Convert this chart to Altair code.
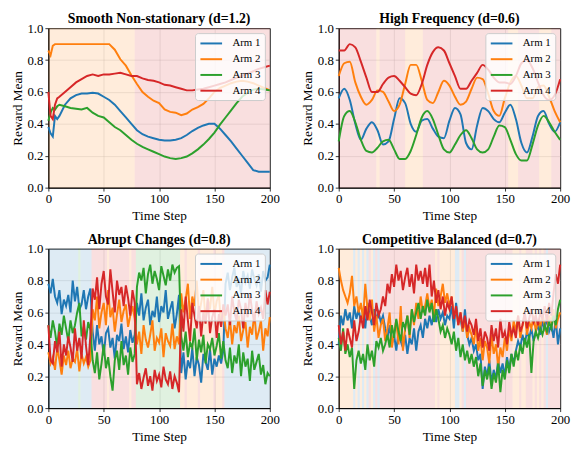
import altair as alt
import numpy as np
import pandas as pd

ARMS = ["Arm 1", "Arm 2", "Arm 3", "Arm 4"]
COLORS = ["#1f77b4", "#ff7f0e", "#2ca02c", "#d62728"]
FONT = "Liberation Serif"

# ---------------- Panel 1: Smooth Non-stationary ----------------
p1_t = [0, 2, 4, 6, 8] + list(range(10, 201, 5))
p1_arm1 = [0.38, 0.34, 0.32, 0.45, 0.43,
           0.45, 0.52, 0.56, 0.58, 0.59, 0.59, 0.595, 0.59, 0.57, 0.55,
           0.52, 0.48, 0.44, 0.40, 0.36, 0.335, 0.32, 0.31, 0.30, 0.295,
           0.295, 0.30, 0.31, 0.33, 0.355, 0.375, 0.39, 0.40, 0.40, 0.37,
           0.33, 0.29, 0.245, 0.20, 0.155, 0.11, 0.10, 0.10, 0.10]
p1_arm2 = [0.86, 0.83, 0.89, 0.90, 0.90,
           0.90, 0.90, 0.90, 0.90, 0.90, 0.90, 0.90, 0.90, 0.90, 0.90,
           0.865, 0.805, 0.765, 0.705, 0.65, 0.60, 0.57, 0.545, 0.53, 0.49,
           0.475, 0.47, 0.455, 0.465, 0.49, 0.505, 0.525, 0.56, 0.60, 0.625,
           0.64, 0.655, 0.665, 0.67, 0.665, 0.655, 0.64, 0.625, 0.61]
p1_arm3 = [0.42, 0.47, 0.50, 0.49, 0.51,
           0.52, 0.51, 0.50, 0.495, 0.49, 0.50, 0.47, 0.45, 0.44, 0.41,
           0.38, 0.36, 0.33, 0.30, 0.275, 0.255, 0.24, 0.225, 0.21, 0.195,
           0.185, 0.18, 0.185, 0.195, 0.215, 0.24, 0.27, 0.305, 0.345, 0.395,
           0.44, 0.485, 0.53, 0.57, 0.595, 0.615, 0.62, 0.615, 0.61]
p1_arm4 = [0.60, 0.45, 0.43, 0.52, 0.56,
           0.57, 0.60, 0.63, 0.66, 0.68, 0.70, 0.71, 0.70, 0.71, 0.71,
           0.715, 0.72, 0.71, 0.70, 0.70, 0.685, 0.675, 0.67, 0.66, 0.645,
           0.64, 0.63, 0.62, 0.61, 0.61, 0.615, 0.62, 0.63, 0.64, 0.65,
           0.66, 0.675, 0.69, 0.70, 0.715, 0.73, 0.745, 0.755, 0.765]
p1_band_start = [0, 78]
p1_band_end = [78, 200]
p1_band_arm = [2, 4]

# ---------------- Panel 2: High Frequency ----------------
p2_t = list(range(0, 201, 5))
p2_arm1 = [0.56, 0.62, 0.55, 0.40, 0.30, 0.37, 0.41, 0.36, 0.27, 0.29,
           0.43, 0.56, 0.53, 0.40, 0.35, 0.42, 0.43, 0.37, 0.32, 0.31,
           0.42, 0.50, 0.46, 0.28, 0.24, 0.39, 0.50, 0.48, 0.43, 0.41,
           0.47, 0.52, 0.43, 0.28, 0.22, 0.32, 0.45, 0.48, 0.40, 0.35,
           0.41]
p2_arm2 = [0.70, 0.78, 0.79, 0.66, 0.57, 0.52, 0.55, 0.61, 0.60, 0.54,
           0.48, 0.52, 0.65, 0.77, 0.77, 0.67, 0.55, 0.53, 0.60, 0.67,
           0.64, 0.57, 0.52, 0.54, 0.62, 0.69, 0.68, 0.59, 0.48, 0.45,
           0.56, 0.66, 0.70, 0.64, 0.56, 0.56, 0.63, 0.64, 0.57, 0.48,
           0.41]
p2_arm3 = [0.29, 0.45, 0.48, 0.41, 0.30, 0.23, 0.22, 0.25, 0.29, 0.30,
           0.24, 0.18, 0.18, 0.23, 0.33, 0.44, 0.48, 0.43, 0.33, 0.24,
           0.22, 0.27, 0.33, 0.36, 0.31, 0.24, 0.22, 0.24, 0.32, 0.39,
           0.38, 0.30, 0.21, 0.17, 0.17, 0.27, 0.39, 0.45, 0.41, 0.35,
           0.30]
p2_arm4 = [0.86, 0.86, 0.90, 0.88, 0.79, 0.69, 0.60, 0.60, 0.65, 0.69,
           0.70, 0.67, 0.63, 0.59, 0.58, 0.65, 0.77, 0.85, 0.88, 0.86,
           0.78, 0.70, 0.62, 0.62, 0.67, 0.72, 0.77, 0.74, 0.69, 0.66,
           0.66, 0.65, 0.70, 0.78, 0.80, 0.75, 0.66, 0.58, 0.55, 0.58,
           0.68]
p2_band_start = [0, 34, 37, 60, 76, 153, 162, 181, 192]
p2_band_end = [34, 37, 60, 76, 153, 162, 181, 192, 200]
p2_band_arm = [4, 2, 4, 2, 4, 2, 4, 2, 4]

# ---------------- Panel 3: Abrupt Changes ----------------
p3_t = list(range(0, 201, 2))
p3_arm1 = [0.78, 0.72, 0.81, 0.70, 0.66, 0.74, 0.59, 0.68, 0.64, 0.71, 0.60, 0.80, 0.67, 0.76, 0.62, 0.65, 0.74, 0.62, 0.70, 0.75,
           0.48, 0.36, 0.52, 0.40, 0.45, 0.33, 0.47, 0.50, 0.38, 0.44, 0.31, 0.46, 0.42, 0.53, 0.37, 0.45, 0.35, 0.49, 0.41, 0.46,
           0.66, 0.58, 0.72, 0.55, 0.63, 0.68, 0.52, 0.61, 0.57, 0.70, 0.54, 0.64, 0.60, 0.74, 0.56, 0.62, 0.67, 0.50, 0.59, 0.71,
           0.22, 0.35, 0.18, 0.30, 0.25, 0.38, 0.20, 0.32, 0.27, 0.16, 0.34, 0.29, 0.24, 0.37, 0.21, 0.31, 0.26, 0.33, 0.28, 0.36,
           0.78, 0.85, 0.74, 0.82, 0.88, 0.76, 0.80, 0.72, 0.86, 0.79, 0.83, 0.75, 0.87, 0.81, 0.77, 0.84, 0.73, 0.86, 0.80, 0.82, 0.90]
p3_arm2 = [0.35, 0.28, 0.32, 0.24, 0.38, 0.30, 0.21, 0.33, 0.27, 0.36, 0.25, 0.31, 0.29, 0.37, 0.23, 0.34, 0.28, 0.32, 0.26, 0.30,
           0.62, 0.55, 0.70, 0.50, 0.60, 0.66, 0.52, 0.74, 0.57, 0.63, 0.48, 0.59, 0.68, 0.54, 0.61, 0.65, 0.51, 0.58, 0.64, 0.56,
           0.40, 0.48, 0.34, 0.52, 0.43, 0.38, 0.46, 0.55, 0.36, 0.44, 0.41, 0.50, 0.32, 0.47, 0.42, 0.39, 0.53, 0.37, 0.45, 0.40,
           0.72, 0.60, 0.68, 0.78, 0.56, 0.70, 0.64, 0.80, 0.58, 0.66, 0.74, 0.55, 0.69, 0.62, 0.76, 0.59, 0.67, 0.71, 0.52, 0.63,
           0.50, 0.44, 0.56, 0.40, 0.52, 0.47, 0.58, 0.42, 0.49, 0.54, 0.38, 0.51, 0.46, 0.60, 0.43, 0.48, 0.55, 0.36, 0.50, 0.45, 0.57]
p3_arm3 = [0.52, 0.44, 0.55, 0.48, 0.38, 0.53, 0.46, 0.58, 0.50, 0.42, 0.55, 0.47, 0.52, 0.60, 0.66, 0.45, 0.51, 0.43, 0.54, 0.49,
           0.30, 0.22, 0.35, 0.18, 0.28, 0.40, 0.25, 0.32, 0.20, 0.11, 0.30, 0.36, 0.24, 0.42, 0.27, 0.33, 0.21, 0.38, 0.29, 0.34,
           0.76, 0.85, 0.80, 0.88, 0.72, 0.84, 0.90, 0.78, 0.86, 0.81, 0.74, 0.89, 0.83, 0.77, 0.87, 0.80, 0.90, 0.85, 0.88, 0.89,
           0.45, 0.36, 0.48, 0.32, 0.41, 0.38, 0.50, 0.30, 0.43, 0.35, 0.46, 0.28, 0.40, 0.37, 0.44, 0.33, 0.39, 0.47, 0.31, 0.42,
           0.30, 0.25, 0.38, 0.22, 0.33, 0.28, 0.40, 0.20, 0.35, 0.26, 0.31, 0.17, 0.36, 0.24, 0.29, 0.34, 0.21, 0.27, 0.15, 0.22, 0.20]
p3_arm4 = [0.52, 0.30, 0.28, 0.42, 0.35, 0.48, 0.26, 0.40, 0.33, 0.45, 0.38, 0.29, 0.50, 0.36, 0.44, 0.31, 0.55, 0.39, 0.27, 0.46,
           0.75, 0.68, 0.82, 0.62, 0.78, 0.86, 0.70, 0.65, 0.87, 0.73, 0.60, 0.80, 0.71, 0.76, 0.64, 0.77, 0.69, 0.58, 0.74, 0.66,
           0.15, 0.22, 0.12, 0.19, 0.25, 0.14, 0.20, 0.11, 0.24, 0.17, 0.21, 0.13, 0.26, 0.18, 0.15, 0.23, 0.12, 0.20, 0.16, 0.10,
           0.62, 0.48, 0.70, 0.55, 0.42, 0.66, 0.58, 0.50, 0.64, 0.45, 0.60, 0.53, 0.68, 0.47, 0.57, 0.62, 0.44, 0.59, 0.51, 0.65,
           0.58, 0.65, 0.52, 0.70, 0.60, 0.55, 0.68, 0.62, 0.50, 0.66, 0.57, 0.72, 0.61, 0.54, 0.67, 0.59, 0.63, 0.56, 0.74, 0.65, 0.73]

# ---------------- Panel 4: Competitive Balanced ----------------
p4_t = list(range(0, 201, 2))
p4_arm1 = [0.40, 0.58, 0.52, 0.62, 0.55, 0.60, 0.50, 0.64, 0.56, 0.62,
           0.54, 0.60, 0.50, 0.66, 0.58, 0.52, 0.62, 0.56, 0.60, 0.54,
           0.58, 0.50, 0.44, 0.52, 0.40, 0.46, 0.36, 0.48, 0.42, 0.38,
           0.46, 0.34, 0.44, 0.40, 0.50, 0.36, 0.48, 0.52, 0.44, 0.56,
           0.50, 0.58, 0.52, 0.60, 0.54, 0.62, 0.56, 0.60, 0.52, 0.58,
           0.56, 0.64, 0.50, 0.66, 0.54, 0.56, 0.48, 0.62, 0.46, 0.40,
           0.44, 0.36, 0.40, 0.30, 0.34, 0.12, 0.26, 0.20, 0.30, 0.16,
           0.24, 0.18, 0.30, 0.22, 0.28, 0.20, 0.32, 0.24, 0.34, 0.28,
           0.36, 0.42, 0.38, 0.46, 0.40, 0.48, 0.44, 0.50, 0.42, 0.48,
           0.52, 0.46, 0.54, 0.50, 0.56, 0.48, 0.52, 0.44, 0.56, 0.40,
           0.50]
p4_arm2 = [0.88, 0.80, 0.74, 0.70, 0.66, 0.72, 0.83, 0.64, 0.70, 0.60,
           0.66, 0.56, 0.78, 0.62, 0.55, 0.68, 0.48, 0.58, 0.44, 0.52,
           0.56, 0.42, 0.50, 0.60, 0.38, 0.48, 0.55, 0.40, 0.64, 0.36,
           0.50, 0.58, 0.44, 0.62, 0.52, 0.66, 0.56, 0.70, 0.60, 0.64,
           0.72, 0.62, 0.68, 0.58, 0.75, 0.64, 0.70, 0.78, 0.66, 0.72,
           0.64, 0.70, 0.58, 0.62, 0.52, 0.60, 0.48, 0.55, 0.44, 0.50,
           0.46, 0.40, 0.52, 0.36, 0.44, 0.30, 0.42, 0.38, 0.28, 0.46,
           0.34, 0.40, 0.26, 0.38, 0.32, 0.44, 0.36, 0.50, 0.42, 0.55,
           0.48, 0.58, 0.44, 0.52, 0.60, 0.46, 0.54, 0.50, 0.58, 0.48,
           0.55, 0.50, 0.60, 0.52, 0.46, 0.58, 0.54, 0.62, 0.50, 0.56,
           0.60]
p4_arm3 = [0.44, 0.36, 0.50, 0.34, 0.40, 0.32, 0.38, 0.12, 0.30, 0.36,
           0.28, 0.34, 0.24, 0.40, 0.30, 0.36, 0.26, 0.42, 0.38, 0.44,
           0.36, 0.40, 0.46, 0.38, 0.52, 0.44, 0.56, 0.48, 0.42, 0.54,
           0.50, 0.58, 0.46, 0.62, 0.54, 0.60, 0.66, 0.56, 0.64, 0.58,
           0.68, 0.60, 0.66, 0.54, 0.62, 0.56, 0.48, 0.52, 0.44, 0.50,
           0.46, 0.40, 0.48, 0.36, 0.44, 0.32, 0.40, 0.30, 0.36, 0.28,
           0.34, 0.26, 0.32, 0.20, 0.28, 0.14, 0.24, 0.18, 0.26, 0.12,
           0.22, 0.16, 0.28, 0.10, 0.24, 0.18, 0.30, 0.22, 0.34, 0.26,
           0.36, 0.30, 0.40, 0.34, 0.44, 0.38, 0.46, 0.22, 0.42, 0.48,
           0.44, 0.50, 0.46, 0.52, 0.48, 0.54, 0.50, 0.58, 0.52, 0.62,
           0.68]
p4_arm4 = [0.52, 0.40, 0.48, 0.36, 0.50, 0.44, 0.38, 0.55, 0.42, 0.48,
           0.58, 0.50, 0.64, 0.55, 0.68, 0.60, 0.52, 0.66, 0.58, 0.62,
           0.70, 0.64, 0.78, 0.72, 0.84, 0.76, 0.90, 0.80, 0.86, 0.74,
           0.82, 0.88, 0.76, 0.84, 0.72, 0.90, 0.80, 0.86, 0.78, 0.88,
           0.76, 0.90, 0.70, 0.80, 0.66, 0.74, 0.62, 0.70, 0.58, 0.66,
           0.62, 0.70, 0.56, 0.64, 0.52, 0.60, 0.50, 0.58, 0.48, 0.55,
           0.52, 0.46, 0.56, 0.42, 0.50, 0.38, 0.48, 0.44, 0.36, 0.52,
           0.42, 0.50, 0.38, 0.56, 0.44, 0.48, 0.40, 0.54, 0.46, 0.50,
           0.44, 0.58, 0.48, 0.52, 0.60, 0.50, 0.56, 0.62, 0.54, 0.58,
           0.52, 0.60, 0.56, 0.64, 0.54, 0.66, 0.58, 0.72, 0.84, 0.78,
           0.90]

TITLES = ["Smooth Non-stationary (d=1.2)", "High Frequency (d=0.6)",
          "Abrupt Changes (d=0.8)", "Competitive Balanced (d=0.7)"]


def long_df(t, series):
    rows = []
    for arm, vals in zip(ARMS, series):
        assert len(vals) == len(t), (arm, len(vals), len(t))
        for ti, v in zip(t, vals):
            rows.append({"t": ti, "value": v, "arm": arm})
    return pd.DataFrame(rows)


def bands_explicit(starts, ends, arms):
    return pd.DataFrame({"start": starts, "end": ends,
                         "color": [COLORS[a - 1] for a in arms]})


def bands_argmax(t, series):
    arr = np.array(series)
    best = arr.argmax(axis=0)
    n = len(t)
    rows = []
    s = 0
    for i in range(1, n + 1):
        if i == n or best[i] != best[s]:
            x0 = t[0] if s == 0 else (t[s - 1] + t[s]) / 2
            x1 = t[-1] if i == n else (t[i - 1] + t[i]) / 2
            rows.append({"start": x0, "end": x1, "color": COLORS[best[s]]})
            s = i
    return pd.DataFrame(rows)


xscale = alt.Scale(domain=[0, 200], nice=False, zero=False)
yscale = alt.Scale(domain=[0, 1], nice=False)
xaxis = alt.Axis(values=[0, 50, 100, 150, 200], title="Time Step", labelFlush=False)
yaxis = alt.Axis(values=[0, 0.2, 0.4, 0.6, 0.8, 1.0], format=".1f", title="Reward Mean", labelFlush=False)


def panel(title, lines_df, bands_df, interp):
    bands = alt.Chart(bands_df).mark_rect(opacity=0.15, strokeWidth=0).encode(
        x=alt.X("start:Q", scale=xscale, axis=xaxis),
        x2="end:Q",
        fill=alt.Fill("color:N", scale=None),
    )
    lines = alt.Chart(lines_df).mark_line(strokeWidth=2, interpolate=interp).encode(
        x=alt.X("t:Q", scale=xscale, axis=xaxis),
        y=alt.Y("value:Q", scale=yscale, axis=yaxis),
        color=alt.Color("arm:N", scale=alt.Scale(domain=ARMS, range=COLORS),
                        legend=alt.Legend(title=None)),
    )
    return alt.layer(bands, lines).properties(
        width=225, height=162,
        title=alt.TitleParams(text=title, frame="group", offset=-4),
    )


s1 = [p1_arm1, p1_arm2, p1_arm3, p1_arm4]
s2 = [p2_arm1, p2_arm2, p2_arm3, p2_arm4]
s3 = [p3_arm1, p3_arm2, p3_arm3, p3_arm4]
s4 = [p4_arm1, p4_arm2, p4_arm3, p4_arm4]

c1 = panel(TITLES[0], long_df(p1_t, s1), bands_explicit(p1_band_start, p1_band_end, p1_band_arm), "linear")
c2 = panel(TITLES[1], long_df(p2_t, s2), bands_explicit(p2_band_start, p2_band_end, p2_band_arm), "monotone")
c3 = panel(TITLES[2], long_df(p3_t, s3), bands_argmax(p3_t, s3), "linear")
c4 = panel(TITLES[3], long_df(p4_t, s4), bands_argmax(p4_t, s4), "linear")

chart = alt.concat(
    c1, c2, c3, c4, columns=2, spacing={"row": 62, "column": 70}, bounds="flush"
).resolve_scale(
    color="independent"
).properties(
    padding={"left": 1, "top": 0, "right": 0, "bottom": 0}
).configure(
    font=FONT
).configure_view(
    stroke="black", strokeWidth=1
).configure_axis(
    labelFont=FONT, titleFont=FONT, labelFontSize=13, titleFontSize=13.5,
    titleFontWeight="normal", labelColor="black", titleColor="black",
    domainColor="black", domainWidth=1, tickColor="black", tickSize=3.5,
    tickWidth=0.8, gridColor="#b0b0b0", gridOpacity=0.35, gridWidth=0.8,
    labelPadding=2, titlePadding=3
).configure_title(
    font=FONT, fontSize=14, fontWeight="bold", anchor="middle", color="black"
).configure_legend(
    orient="top-right", offset=5, fillColor="rgba(255,255,255,0.8)",
    strokeColor="#cccccc", cornerRadius=3, padding=4, labelFont=FONT,
    labelFontSize=11, labelColor="black", symbolType="M-2,0L2,0", symbolSize=121,
    symbolStrokeWidth=2, symbolOffset=6, rowPadding=4, labelOffset=15
)

chart.save("out.html", embed_options={"renderer": "svg", "actions": False})
